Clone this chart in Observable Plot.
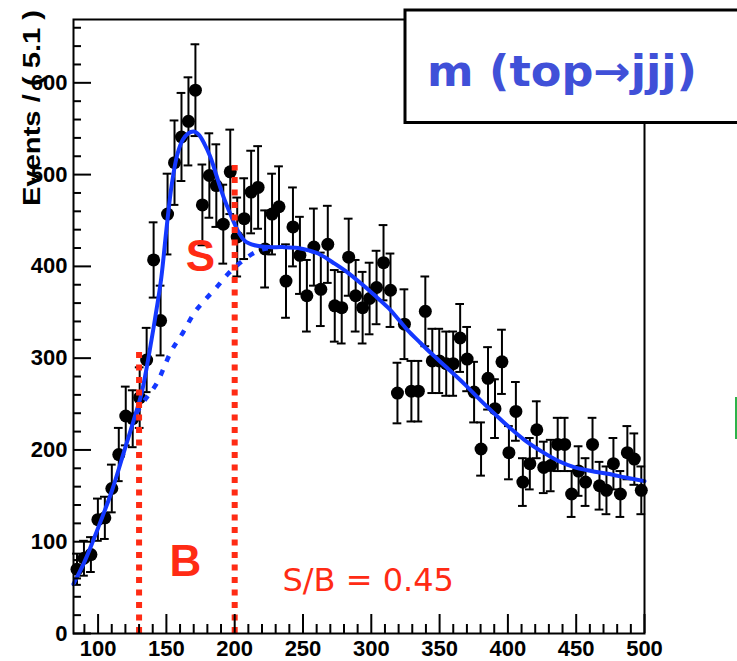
<!DOCTYPE html>
<html><head><meta charset="utf-8">
<script src="https://cdn.jsdelivr.net/npm/d3@7"></script>
<script src="https://cdn.jsdelivr.net/npm/@observablehq/plot@0.6"></script>
<style>
body{margin:0;background:#fff}
#wrap{position:relative;width:737px;height:661px;overflow:hidden;background:#fff}
</style>
</head><body><div id="wrap"></div>
<script>
// histogram bin centres (82 bins of width 5.1 from 82 to 500)
const binCenters = [84.55,89.65,94.75,99.85,104.95,110.05,115.15,120.25,125.35,130.45,135.55,140.65,145.75,150.85,155.95,161.05,166.15,171.25,176.35,181.45,186.55,191.65,196.75,201.85,206.95,212.05,217.15,222.25,227.35,232.45,237.55,242.65,247.75,252.85,257.95,263.05,268.15,273.25,278.35,283.45,288.55,293.65,298.75,303.85,308.95,314.05,319.15,324.25,329.35,334.45,339.55,344.65,349.75,354.85,359.95,365.05,370.15,375.25,380.35,385.45,390.55,395.65,400.75,405.85,410.95,416.05,421.15,426.25,431.35,436.45,441.55,446.65,451.75,456.85,461.95,467.05,472.15,477.25,482.35,487.45,492.55,497.65];
const events = [70,82,86,124,126,158,195,237,234,257,298,407,341,457,513,541,558,592,467,499,488,446,503,432,452,481,486,419,457,465,384,443,412,368,421,375,424,357,355,410,368,355,365,377,404,374,262,337,264,264,351,297,297,294,294,322,299,263,201,278,245,296,197,242,165,185,222,181,183,206,206,152,177,165,206,161,156,185,152,197,190,156];
const errors = [17,19,19,23,23,26,29,32,31,33,35,41,38,44,46,48,48,50,44,46,45,43,46,43,44,45,45,42,44,44,40,43,42,39,42,40,42,39,39,42,39,39,39,40,41,40,33,38,33,33,38,35,35,35,35,37,35,33,29,34,32,35,29,32,26,28,31,28,28,29,29,25,27,26,29,26,26,28,25,29,28,26];

// total fit (signal + background)
const fitMass   = [82,90,100,110,120,126,131.7,135,139,143,146.3,150,154,158,162,166,170,174,178,182,185.4,189,192.7,196,198.8,203,207.3,214.6,225,235,246.4,255,261.1,273.2,283,292.8,302,312.3,320,326.9,335,344,355,368,380,392,400,412,424,437,449,461,473,486,500];
const fitEvents = [54,78,115,155,203,232,261,285,319,355,388,440,490,522,538,545,547,543,533,520,505,488,472,460,450,437,428,423,421,421,420,417,414,403,393,381,369,355,342,330,318,305,290,272,254,237,226,211,199,188,181,177,174,170,166];

// background component
const bkgMass   = [128,134,142.7,153.7,162.2,170.7,178,186.6,195.2,204.9,214.6,222,230];
const bkgEvents = [240,254,272,308,328,350,363,377,392,405,415,419,421];

// mass window
const windowEdges = [130, 200];
const windowTops  = [308, 510];

// axis ticks
const xMajorTicks = [100,150,200,250,300,350,400,450,500];
const xMinorTicks = [90,110,120,130,140,160,170,180,190,210,220,230,240,260,270,280,290,310,320,330,340,360,370,380,390,410,420,430,440,460,470,480,490];
const yMajorTicks = [0,100,200,300,400,500,600];
const yMinorTicks = [20,40,60,80,120,140,160,180,220,240,260,280,320,340,360,380,420,440,460,480,520,540,560,580,620,640,660];

// annotations
const annoText   = ["S", "B", "S/B = 0.45"];
const annoMass   = [175, 164, 235];
const annoEvents = [410, 78, 57];
const annoBold   = [true, true, false];

const titleText = "m (top\u2192jjj)";
const yLabelText = "Events / ( 5.1 )";

const RED = "#ff2b14", BLUE = "#1438ff";

const W = 737, H = 661, ML = 73, MR = 93, MT = 19, MB = 28;
const xDomain = [82, 500], yDomain = [0, 669];
const pxX = (xDomain[1] - xDomain[0]) / (W - ML - MR);
const pxY = (yDomain[1] - yDomain[0]) / (H - MT - MB);

const points = binCenters.map((m, i) => ({m, n: events[i], lo: events[i] - errors[i], hi: events[i] + errors[i]}));
const fit = fitMass.map((m, i) => ({m, n: fitEvents[i]}));
const bkg = bkgMass.map((m, i) => ({m, n: bkgEvents[i]}));
const win = windowEdges.map((m, i) => ({m, top: windowTops[i]}));
const anno = annoText.map((t, i) => ({t, m: annoMass[i], n: annoEvents[i], bold: annoBold[i]}));
const xMaj = xMajorTicks.map(v => ({v, len: 19 * pxY}));
const xMin = xMinorTicks.map(v => ({v, len: 9 * pxY}));
const yMaj = yMajorTicks.map(v => ({v, len: 18 * pxX}));
const yMin = yMinorTicks.map(v => ({v, len: 8 * pxX}));

const tickFont = {fontSize: 22, fontWeight: "bold", fill: "black"};
const capHalf = 3.2;

const chart = Plot.plot({
  width: W, height: H,
  marginLeft: ML, marginRight: MR, marginTop: MT, marginBottom: MB,
  style: {fontFamily: "'Liberation Sans', Arial, sans-serif", background: "white", color: "black"},
  x: {domain: xDomain},
  y: {domain: yDomain},
  marks: [
    Plot.ruleX(points, {x: "m", y1: "lo", y2: "hi", stroke: "black", strokeWidth: 2}),
    Plot.ruleY(points, {y: "lo", x1: d => d.m - capHalf, x2: d => d.m + capHalf, stroke: "black", strokeWidth: 2}),
    Plot.ruleY(points, {y: "hi", x1: d => d.m - capHalf, x2: d => d.m + capHalf, stroke: "black", strokeWidth: 2}),
    Plot.dot(points, {x: "m", y: "n", r: 6.5, fill: "black", stroke: "none"}),
    Plot.line(bkg, {x: "m", y: "n", stroke: BLUE, strokeWidth: 4.5, strokeDasharray: "6,9", strokeLinecap: "butt", curve: "catmull-rom"}),
    Plot.line(fit, {x: "m", y: "n", stroke: BLUE, strokeWidth: 4, curve: "catmull-rom"}),
    Plot.ruleX(win, {x: "m", y1: 0, y2: "top", stroke: RED, strokeWidth: 6, strokeDasharray: "6,6.5"}),
    Plot.text(anno.filter(d => d.bold), {x: "m", y: "n", text: "t", fill: RED, fontSize: 44, fontWeight: "bold", textAnchor: "middle", lineAnchor: "middle", fontFamily: "'Liberation Sans', Arial, sans-serif"}),
    Plot.text(anno.filter(d => !d.bold), {x: "m", y: "n", text: "t", fill: RED, fontSize: 32, textAnchor: "start", lineAnchor: "middle", fontFamily: "'DejaVu Sans', Verdana, sans-serif"}),
    // tick labels
    Plot.axisX(xMajorTicks, {tickSize: 0, tickPadding: 7, tickFormat: d => String(d), label: null, ...tickFont}),
    Plot.axisY(yMajorTicks, {tickSize: 0, tickPadding: 6, tickFormat: d => String(d), label: null, ...tickFont}),
    // inward ticks (lengths converted from pixels to data units)
    Plot.ruleX(xMaj.concat(xMin), {x: "v", y1: () => yDomain[0], y2: d => yDomain[0] + d.len, stroke: "black", strokeWidth: 2}),
    Plot.ruleY(yMaj.concat(yMin), {y: "v", x1: () => xDomain[0], x2: d => xDomain[0] + d.len, stroke: "black", strokeWidth: 2}),
    Plot.frame({stroke: "black", strokeWidth: 2})
  ]
});

const wrap = document.getElementById("wrap");
chart.style.position = "absolute"; chart.style.left = "0"; chart.style.top = "0";
wrap.appendChild(chart);

const ov = d3.select(wrap).append("svg")
  .attr("width", W).attr("height", H)
  .style("position", "absolute").style("left", 0).style("top", 0)
  .style("overflow", "visible");

// y-axis title
ov.append("text")
  .attr("transform", "translate(40,108) rotate(-90)")
  .attr("text-anchor", "middle")
  .attr("font-family", "'Liberation Sans', Arial, sans-serif")
  .attr("font-weight", "bold")
  .attr("font-size", 24)
  .attr("textLength", 196).attr("lengthAdjust", "spacingAndGlyphs")
  .attr("fill", "black")
  .text(yLabelText);

// title box
ov.append("rect").attr("x", 405).attr("y", 10).attr("width", 345).attr("height", 112.5)
  .attr("fill", "white").attr("stroke", "black").attr("stroke-width", 3);
ov.append("text")
  .attr("x", 427).attr("y", 86)
  .attr("font-family", "'DejaVu Sans', sans-serif").attr("font-weight", "bold")
  .attr("font-size", 42)
  .attr("textLength", 270).attr("lengthAdjust", "spacingAndGlyphs")
  .attr("fill", "#4050d8")
  .text(titleText);

// small green mark at right edge
ov.append("line").attr("x1", 736).attr("x2", 736).attr("y1", 397).attr("y2", 439)
  .attr("stroke", "#2db34a").attr("stroke-width", 2);
</script>
</body></html>
